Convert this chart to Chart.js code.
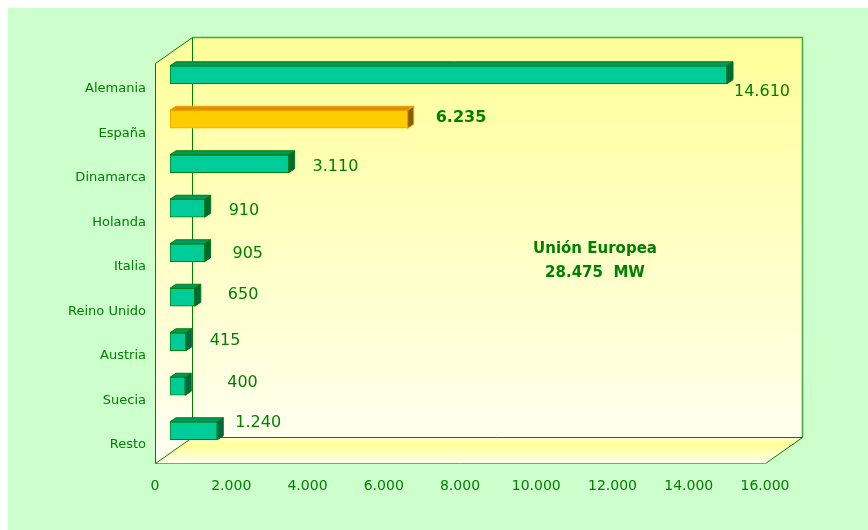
<!DOCTYPE html>
<html>
<head>
    <title>Potencia eólica instalada - Unión Europea</title>
    <meta charset="UTF-8"/>
    <script src="https://cdn.jsdelivr.net/npm/chart.js@4.4.0/dist/chart.umd.min.js"></script>
    <style>
        html, body {
            margin: 0;
            padding: 0;
            background: #ffffff;
        }
        #wrap {
            position: absolute;
            left: 8px;
            top: 8px;
            width: 860px;
            height: 522px;
            background: #ccffcc;
        }
    </style>
</head>
<body>
<div id="wrap"><canvas id="canvas" width="860" height="522"></canvas></div>
<script>
    // datos (MW)
    var paises = ['Alemania', 'España', 'Dinamarca', 'Holanda', 'Italia', 'Reino Unido', 'Austria', 'Suecia', 'Resto'];
    var potencia = [14610, 6235, 3110, 910, 905, 650, 415, 400, 1240];
    var ejeMin = 0;
    var ejeMax = 16000;
    var ejePaso = 2000;
    var destacado = 'España';
    var rotulo = ['Unión Europea', '28.475  MW'];

    var verde = '#008000';

    function puntos(n) {
        return String(n).replace(/\B(?=(\d{3})+(?!\d))/g, '.');
    }

    var frente = paises.map(function(p) { return p === destacado ? '#ffcc00' : '#00cc99'; });
    var borde = paises.map(function(p) { return p === destacado ? '#ff9900' : '#008000'; });
    var techo = paises.map(function(p) { return p === destacado ? '#cc9900' : '#009966'; });
    var lado = paises.map(function(p) { return p === destacado ? '#806000' : '#006644'; });

    // ajuste a mano de las etiquetas respecto al final de cada barra
    var desplEtiq = [[7, 17], [28, -1], [24, 3], [24, 2.5], [28, 1], [33, -2.5], [24, -1], [42, -3], [18, -8]];

    function linea(ctx, pts, color) {
        ctx.beginPath();
        ctx.moveTo(pts[0][0], pts[0][1]);
        for (var i = 1; i < pts.length; i++) ctx.lineTo(pts[i][0], pts[i][1]);
        ctx.strokeStyle = color;
        ctx.stroke();
    }

    // paredes y suelo del grafico 3D
    var paredes = {
        id: 'paredes',
        beforeDatasetsDraw: function(chart) {
            var ctx = chart.ctx, a = chart.chartArea;
            var fx0 = Math.round(a.left - 15) + 0.5, fx1 = Math.round(a.right - 15) + 0.5;
            var fy0 = Math.round(a.top + 10) + 0.5, fy1 = Math.round(a.bottom + 10) + 0.5;
            var dx = 37, dy = -26;
            ctx.save();
            ctx.lineWidth = 1;

            // fondo
            var g = ctx.createLinearGradient(0, fy0 + dy, 0, fy1 + dy);
            g.addColorStop(0, '#ffff99');
            g.addColorStop(1, '#ffffee');
            ctx.fillStyle = g;
            ctx.fillRect(fx0 + dx, fy0 + dy, fx1 - fx0, fy1 - fy0);

            // pared izquierda
            ctx.beginPath();
            ctx.moveTo(fx0, fy0);
            ctx.lineTo(fx0 + dx, fy0 + dy);
            ctx.lineTo(fx0 + dx, fy1 + dy);
            ctx.lineTo(fx0, fy1);
            ctx.closePath();
            ctx.fillStyle = g;
            ctx.fill();

            // suelo
            var gs = ctx.createLinearGradient(0, fy1 + dy, 0, fy1);
            gs.addColorStop(0, '#ffffcc');
            gs.addColorStop(0.3, '#ffff99');
            gs.addColorStop(1, '#ffffee');
            ctx.beginPath();
            ctx.moveTo(fx0, fy1);
            ctx.lineTo(fx0 + dx, fy1 + dy);
            ctx.lineTo(fx1 + dx, fy1 + dy);
            ctx.lineTo(fx1, fy1);
            ctx.closePath();
            ctx.fillStyle = gs;
            ctx.fill();

            // bordes
            ctx.lineWidth = 1.5;
            linea(ctx, [[fx0 + dx, fy0 + dy], [fx1 + dx, fy0 + dy], [fx1 + dx, fy1 + dy]], '#44a544');
            ctx.lineWidth = 1;
            linea(ctx, [[fx0, fy1], [fx1, fy1]], '#66b266');
            linea(ctx, [[fx0 + dx, fy0 + dy], [fx0 + dx, fy1 + dy], [fx1 + dx, fy1 + dy]], verde);
            linea(ctx, [[fx0, fy1], [fx0, fy0], [fx0 + dx, fy0 + dy]], verde);
            linea(ctx, [[fx0, fy1], [fx0 + dx, fy1 + dy]], verde);
            linea(ctx, [[fx1, fy1], [fx1 + dx, fy1 + dy]], verde);
            ctx.restore();
        },
        afterDatasetsDraw: function(chart) {
            var ctx = chart.ctx, a = chart.chartArea;
            var meta = chart.getDatasetMeta(0);
            var bx = 6, by = -4;
            ctx.save();
            ctx.lineWidth = 1;
            ctx.lineJoin = 'round';
            meta.data.forEach(function(el, i) {
                var x0 = el.base, x1 = el.x;
                var y0 = el.y - el.height / 2, y1 = el.y + el.height / 2;
                // cara superior
                ctx.beginPath();
                ctx.moveTo(x0, y0);
                ctx.lineTo(x0 + bx, y0 + by);
                ctx.lineTo(x1 + bx, y0 + by);
                ctx.lineTo(x1, y0);
                ctx.closePath();
                ctx.fillStyle = techo[i];
                ctx.fill();
                ctx.strokeStyle = borde[i];
                ctx.stroke();
                // cara lateral
                ctx.beginPath();
                ctx.moveTo(x1, y0);
                ctx.lineTo(x1 + bx, y0 + by);
                ctx.lineTo(x1 + bx, y1 + by);
                ctx.lineTo(x1, y1);
                ctx.closePath();
                ctx.fillStyle = lado[i];
                ctx.fill();
                ctx.stroke();

                // etiqueta de valor
                ctx.fillStyle = verde;
                ctx.textAlign = 'left';
                ctx.textBaseline = 'middle';
                ctx.font = (paises[i] === destacado ? 'bold ' : '') + '16px "DejaVu Sans"';
                ctx.fillText(puntos(potencia[i]), x1 + desplEtiq[i][0], el.y + desplEtiq[i][1]);
            });

            // rotulo central
            ctx.font = 'bold 15px "DejaVu Sans"';
            ctx.textAlign = 'center';
            ctx.fillText(rotulo[0], a.left + 425, a.top + 196.5);
            ctx.fillText(rotulo[1], a.left + 425, a.top + 220.5);
            ctx.restore();
        }
    };

    var context = document.getElementById('canvas').getContext('2d');
    var grafico = new Chart(context, {
        type: 'bar',
        data: {
            labels: paises,
            datasets: [{
                data: potencia,
                backgroundColor: frente,
                borderColor: borde,
                borderWidth: 1,
                borderSkipped: false,
                barThickness: 18
            }]
        },
        options: {
            indexAxis: 'y',
            responsive: false,
            animation: false,
            layout: { padding: { left: 0, top: 44.5, right: 88, bottom: 0 } },
            plugins: {
                legend: { display: false },
                tooltip: { enabled: false }
            },
            scales: {
                y: {
                    grid: { display: false },
                    border: { display: false },
                    afterFit: function(s) { s.width = 162; },
                    ticks: {
                        color: verde,
                        padding: 16,
                        labelOffset: 14,
                        font: { family: 'DejaVu Sans', size: 13 }
                    }
                },
                x: {
                    min: ejeMin,
                    max: ejeMax,
                    grid: { display: false },
                    border: { display: false },
                    afterFit: function(s) { s.height = 77; },
                    ticks: {
                        stepSize: ejePaso,
                        color: verde,
                        padding: 17,
                        labelOffset: -15,
                        font: { family: 'DejaVu Sans', size: 14 },
                        callback: function(v) { return puntos(v); }
                    }
                }
            }
        },
        plugins: [paredes]
    });
</script>
</body>
</html>
